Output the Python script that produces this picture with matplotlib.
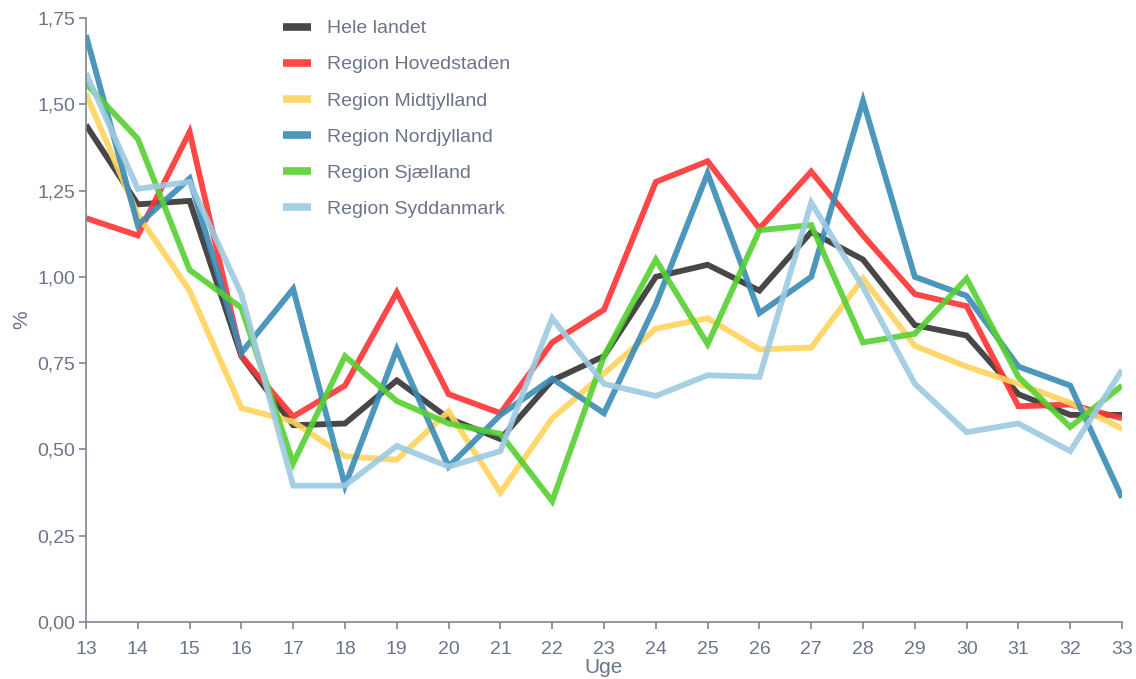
import matplotlib.pyplot as plt
from matplotlib.ticker import FuncFormatter

weeks = list(range(13, 34))

hele_landet = [1.44, 1.21, 1.22, 0.77, 0.57, 0.575, 0.70, 0.59, 0.53, 0.70, 0.77,
               1.00, 1.035, 0.96, 1.13, 1.05, 0.86, 0.83, 0.66, 0.60, 0.60]
hovedstaden = [1.17, 1.12, 1.42, 0.77, 0.595, 0.685, 0.955, 0.66, 0.605, 0.81, 0.905,
               1.275, 1.335, 1.14, 1.305, 1.12, 0.95, 0.915, 0.625, 0.63, 0.59]
midtjylland = [1.53, 1.18, 0.96, 0.62, 0.58, 0.48, 0.47, 0.61, 0.375, 0.59, 0.72,
               0.85, 0.88, 0.79, 0.795, 0.995, 0.80, 0.74, 0.69, 0.635, 0.56]
nordjylland = [1.70, 1.15, 1.285, 0.78, 0.965, 0.395, 0.79, 0.45, 0.60, 0.705, 0.605,
               0.92, 1.30, 0.895, 1.00, 1.51, 1.00, 0.945, 0.74, 0.685, 0.36]
sjaelland = [1.56, 1.40, 1.02, 0.91, 0.46, 0.77, 0.64, 0.575, 0.545, 0.35, 0.77,
             1.05, 0.805, 1.135, 1.15, 0.81, 0.835, 0.995, 0.71, 0.565, 0.685]
syddanmark = [1.59, 1.255, 1.275, 0.95, 0.395, 0.395, 0.51, 0.45, 0.495, 0.88, 0.69,
              0.655, 0.715, 0.71, 1.215, 0.97, 0.69, 0.55, 0.575, 0.495, 0.73]

series = [
    ("Hele landet", hele_landet, "#333333"),
    ("Region Hovedstaden", hovedstaden, "#ff3333"),
    ("Region Midtjylland", midtjylland, "#ffd35c"),
    ("Region Nordjylland", nordjylland, "#3a8bb5"),
    ("Region Sjælland", sjaelland, "#55d030"),
    ("Region Syddanmark", syddanmark, "#9ecae1"),
]

text_col = "#6b7489"
axis_col = "#7d8597"

plt.rcParams['font.family'] = ['Liberation Sans', 'DejaVu Sans']

fig = plt.figure(figsize=(11.36, 6.79), dpi=100)
ax = fig.add_axes([0.0757, 0.084, 0.912, 0.8895])

for name, vals, col in series:
    ax.plot(weeks, vals, color=col, lw=4.2, alpha=0.9, label=name,
            solid_joinstyle='miter', solid_capstyle='butt')

ax.set_xlim(13, 33)
ax.set_ylim(0, 1.75)
ax.set_xticks(weeks)
ax.set_yticks([0, 0.25, 0.5, 0.75, 1.0, 1.25, 1.5, 1.75])
ax.yaxis.set_major_formatter(FuncFormatter(lambda v, p: f"{v:.2f}".replace(".", ",")))

for s in ["top", "right"]:
    ax.spines[s].set_visible(False)
for s in ["left", "bottom"]:
    ax.spines[s].set_color(axis_col)
    ax.spines[s].set_linewidth(1.2)
ax.tick_params(colors=axis_col, labelcolor=text_col, labelsize=14, length=5, width=1.2)
ax.tick_params(axis="x", pad=9)
ax.tick_params(axis="y", pad=3)

ax.set_xlabel("Uge", color=text_col, fontsize=15, labelpad=0)
ax.set_ylabel("%", color=text_col, fontsize=15, labelpad=4)

leg = ax.legend(loc="upper left", bbox_to_anchor=(0.19, 0.997), frameon=False,
                borderaxespad=0, borderpad=0,
                fontsize=14, handlelength=1.45, labelspacing=0.95, handletextpad=0.8)
for t in leg.get_texts():
    t.set_color(text_col)
for h in leg.get_lines():
    h.set_linewidth(5.5)

fig.savefig("out.png", dpi=100)
